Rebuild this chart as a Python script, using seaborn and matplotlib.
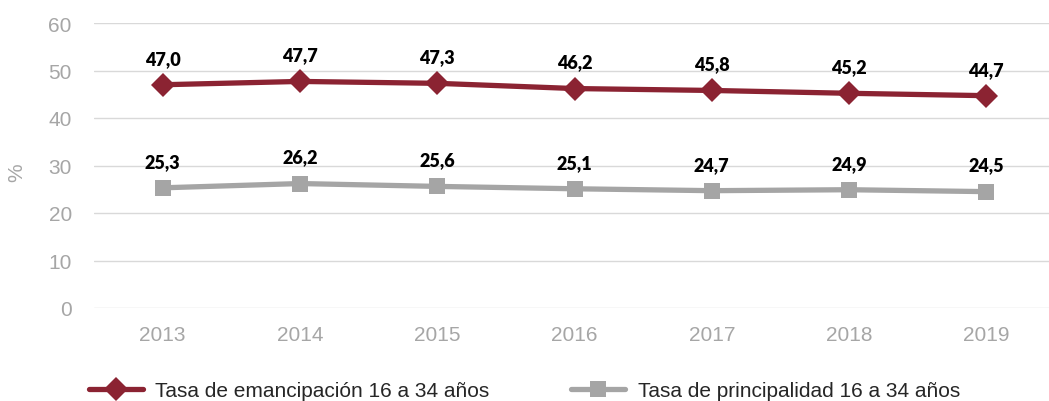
import pandas as pd
import matplotlib.pyplot as plt
import seaborn as sns

years = ['2013', '2014', '2015', '2016', '2017', '2018', '2019']
emancipacion = [47.0, 47.7, 47.3, 46.2, 45.8, 45.2, 44.7]
principalidad = [25.3, 26.2, 25.6, 25.1, 24.7, 24.9, 24.5]
serie_a = 'Tasa de emancipación 16 a 34 años'
serie_b = 'Tasa de principalidad 16 a 34 años'

df = pd.DataFrame({
    'year': years * 2,
    'valor': emancipacion + principalidad,
    'serie': [serie_a] * 7 + [serie_b] * 7,
})

sns.set_style('white')
plt.rcParams['font.family'] = ['Liberation Sans', 'DejaVu Sans']

colores = {serie_a: '#8b2332', serie_b: '#a5a5a5'}

fig = plt.figure(figsize=(10.49, 4.02), dpi=100)
ax = fig.add_axes([94 / 1049, 1 - 309 / 402, 961 / 1049, 285 / 402])

sns.lineplot(data=df, x='year', y='valor', hue='serie', style='serie',
             markers={serie_a: 'D', serie_b: 's'}, dashes=False,
             palette=colores, linewidth=3.8, markersize=12, markeredgewidth=0,
             sort=False, ax=ax, legend=False)

for vals in (emancipacion, principalidad):
    for i, v in enumerate(vals):
        ax.annotate(f'{v:.1f}'.replace('.', ','), (i, v), xytext=(0, 13),
                    textcoords='offset points', ha='center', va='bottom',
                    fontsize=13, fontweight='heavy', family='Lato', color='black')

ax.set_xlim(-0.5, 6.5)
ax.set_ylim(0, 60)
ax.set_yticks(range(0, 61, 10))
ax.yaxis.grid(True, color='#d9d9d9', linewidth=1)
ax.xaxis.grid(False)
for s in ax.spines.values():
    s.set_visible(False)
ax.tick_params(axis='y', colors='#a6a6a6', labelsize=15, length=0, pad=16)
ax.tick_params(axis='x', colors='#a6a6a6', labelsize=15, length=0, pad=12)
ax.set_xlabel('')
ax.set_ylabel('%', color='#a6a6a6', fontsize=15)
ax.yaxis.set_label_coords(-68 / 961, 0.48)

handles = [plt.Line2D([], [], color=colores[serie_a], marker='D', lw=3.8, ms=12, mew=0),
           plt.Line2D([], [], color=colores[serie_b], marker='s', lw=3.8, ms=12, mew=0)]
fig.legend(handles, [serie_a, serie_b], loc='lower left', bbox_to_anchor=(70 / 1049, -0.045),
           ncol=2, frameon=False, fontsize=15, handlelength=2.6, columnspacing=3.9,
           handletextpad=0.6)

plt.savefig('out.png', dpi=100)
